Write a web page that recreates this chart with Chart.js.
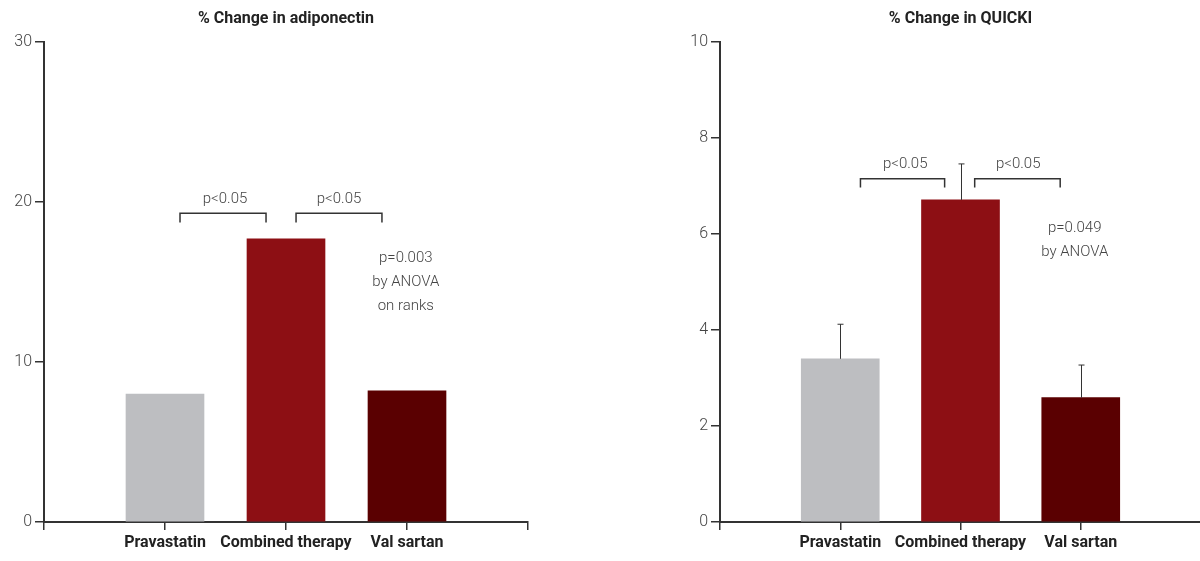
<!DOCTYPE html>
<html lang="en">
<head>
    <meta charset="UTF-8">
    <title>% Change in adiponectin / QUICKI</title>
    <script src="https://cdn.jsdelivr.net/npm/chart.js"></script>
    <style>
        html, body {
            margin: 0;
            padding: 0;
            background: #fff;
            width: 1200px;
            height: 561px;
            overflow: hidden;
            position: relative;
        }
        .panel {
            position: absolute;
            top: 0;
            height: 561px;
        }
        #left_panel { left: 0; width: 560px; }
        #right_panel { left: 676px; width: 528px; }
    </style>
</head>
<body>
    <div class="panel" id="left_panel"><canvas id="chart_adipo"></canvas></div>
    <div class="panel" id="right_panel"><canvas id="chart_quicki"></canvas></div>

    <script>
        // data
        const CATEGORIES = ['Pravastatin', 'Combined therapy', 'Val sartan']
        const BAR_COLORS = ['#bdbec1', '#8d0f14', '#5a0001']

        const ADIPO_VALUES = [8.0, 17.7, 8.2]
        const ADIPO_TICKS = [0, 10, 20, 30]

        const QUICKI_VALUES = [3.40, 6.71, 2.59]
        const QUICKI_ERRORS = [0.72, 0.75, 0.68]
        const QUICKI_TICKS = [0, 2, 4, 6, 8, 10]

        // annotation positions in data units (x = category index incl. blank ends)
        const ADIPO_NOTES = {
            title: '% Change in adiponectin',
            brackets: [
                { x0: 1.124, x1: 1.835, y: 19.3, leg: 0.58, label: 'p<0.05', lx: 1.496, ly: 20.2 },
                { x0: 2.083, x1: 2.793, y: 19.3, leg: 0.58, label: 'p<0.05', lx: 2.438, ly: 20.2 }
            ],
            text: { x: 2.99, y: [16.47, 14.97, 13.47], lines: ['p=0.003', 'by ANOVA', 'on ranks'] }
        }
        const QUICKI_NOTES = {
            title: '% Change in QUICKI',
            brackets: [
                { x0: 1.168, x1: 1.868, y: 7.15, leg: 0.18, label: 'p<0.05', lx: 1.54, ly: 7.46 },
                { x0: 2.118, x1: 2.829, y: 7.15, leg: 0.18, label: 'p<0.05', lx: 2.48, ly: 7.46 }
            ],
            text: { x: 2.95, y: [6.13, 5.63], lines: ['p=0.049', 'by ANOVA'] }
        }

        const LABEL_FONT = 'Roboto, "Open Sans", sans-serif'
        const NOTE_FONT = 'Roboto, "Open Sans", sans-serif'
        const AXIS_COLOR = '#333'

        // blank slot at each end so bars sit at 1/4, 2/4, 3/4 of the axis
        const padded = arr => [null, ...arr, null]

        const notesPlugin = {
            id: 'notes',
            afterDraw(chart, args, opts) {
                const ctx = chart.ctx
                const x = chart.scales.x, y = chart.scales.y
                const area = chart.chartArea
                ctx.save()

                // title
                ctx.fillStyle = '#222'
                ctx.font = 'bold 16px ' + LABEL_FONT
                ctx.textAlign = 'center'
                ctx.textBaseline = 'middle'
                ctx.fillText(opts.title, (area.left + area.right) / 2, 19)

                // error bars
                if (opts.errors) {
                    ctx.strokeStyle = AXIS_COLOR
                    ctx.lineWidth = 1
                    opts.values.forEach((v, i) => {
                        const px = Math.round(x.getPixelForValue(i + 1)) + 0.5
                        const top = y.getPixelForValue(v + opts.errors[i])
                        ctx.beginPath()
                        ctx.moveTo(px, y.getPixelForValue(v))
                        ctx.lineTo(px, top)
                        ctx.moveTo(px - 3, top)
                        ctx.lineTo(px + 3, top)
                        ctx.stroke()
                    })
                }

                // brackets
                ctx.strokeStyle = AXIS_COLOR
                ctx.lineWidth = 1.5
                ctx.fillStyle = '#444'
                ctx.font = '300 15px ' + NOTE_FONT
                opts.brackets.forEach(b => {
                    const l = x.getPixelForValue(b.x0), r = x.getPixelForValue(b.x1)
                    const t = y.getPixelForValue(b.y), d = y.getPixelForValue(b.y - b.leg)
                    ctx.beginPath()
                    ctx.moveTo(l, d)
                    ctx.lineTo(l, t)
                    ctx.lineTo(r, t)
                    ctx.lineTo(r, d)
                    ctx.stroke()
                    ctx.fillText(b.label, x.getPixelForValue(b.lx), y.getPixelForValue(b.ly))
                })

                // ANOVA text
                opts.text.lines.forEach((s, i) => {
                    ctx.fillText(s, x.getPixelForValue(opts.text.x), y.getPixelForValue(opts.text.y[i]))
                })
                ctx.restore()
            }
        }

        function makeChart(id, values, ticks, notes, errors, padRight) {
            const max = ticks[ticks.length - 1]
            return new Chart(document.getElementById(id), {
                type: 'bar',
                data: {
                    labels: padded(CATEGORIES).map(v => v || ''),
                    datasets: [{
                        data: padded(values),
                        backgroundColor: padded(BAR_COLORS),
                        barThickness: 78,
                        borderWidth: 0
                    }]
                },
                options: {
                    responsive: true,
                    maintainAspectRatio: false,
                    animation: false,
                    layout: { padding: { top: 42, right: padRight, bottom: 0, left: 0 } },
                    plugins: {
                        legend: { display: false },
                        tooltip: { enabled: false },
                        notes: { ...notes, values: values, errors: errors }
                    },
                    scales: {
                        x: {
                            offset: false,
                            afterFit: s => { s.height = 39 },
                            grid: { offset: false, drawOnChartArea: false, tickLength: 8, color: AXIS_COLOR, lineWidth: 1.5 },
                            border: { color: AXIS_COLOR, width: 2 },
                            ticks: {
                                autoSkip: false, maxRotation: 0, padding: 3,
                                color: '#222',
                                font: { family: LABEL_FONT, size: 16, weight: 'bold' }
                            }
                        },
                        y: {
                            min: 0,
                            max: max,
                            afterFit: s => { s.width = 44 },
                            afterBuildTicks: s => { s.ticks = ticks.map(v => ({ value: v })) },
                            grid: { drawOnChartArea: false, tickLength: 9, color: AXIS_COLOR, lineWidth: 1.5 },
                            border: { color: AXIS_COLOR, width: 2 },
                            ticks: {
                                padding: 3,
                                color: '#444',
                                font: { family: NOTE_FONT, size: 16, weight: 300 }
                            }
                        }
                    }
                },
                plugins: [notesPlugin]
            })
        }

        makeChart('chart_adipo', ADIPO_VALUES, ADIPO_TICKS, ADIPO_NOTES, null, 32)
        makeChart('chart_quicki', QUICKI_VALUES, QUICKI_TICKS, QUICKI_NOTES, QUICKI_ERRORS, 0)
    </script>
</body>
</html>
